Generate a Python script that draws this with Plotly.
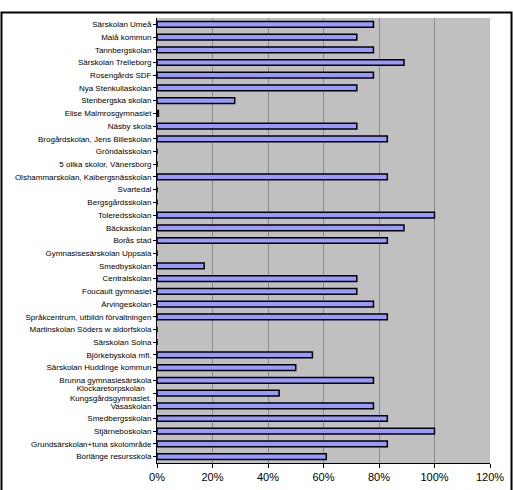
import plotly.graph_objects as go

categories = [
    "Särskolan Umeå", "Malå kommun", "Tannbergskolan", "Särskolan Trelleborg",
    "Rosengårds SDF", "Nya Stenkullaskolan", "Stenbergska skolan",
    "Elise Malmrosgymnasiet", "Näsby skola", "Brogårdskolan, Jens Billeskolan",
    "Gröndalsskolan", "5 olika skolor, Vänersborg",
    "Olshammarskolan, Kaibergsnässkolan", "Svartedal", "Bergsgårdsskolan",
    "Toleredsskolan", "Bäckaskolan", "Borås stad", "Gymnasisesärskolan Uppsala",
    "Smedbyskolan", "Centralskolan", "Foucault gymnasiet", "Ärvingeskolan",
    "Språkcentrum, utbildn förvaltningen", "Martinskolan Söders w aldorfskola",
    "Särskolan Solna", "Björkebyskola mfl.", "Särskolan Huddinge kommun",
    "Brunna gymnasiesärskola", "Klockaretorpskolan   <br>Kungsgårdsgymnasiet.",
    "Vasaskolan", "Smedbergsskolan", "Stjärneboskolan",
    "Grundsärskolan+tuna skolområde", "Borlänge resursskola",
]
values = [
    0.78, 0.72, 0.78, 0.89, 0.78, 0.72, 0.28, 0.005, 0.72, 0.83,
    0, 0, 0.83, 0, 0, 1.00, 0.89, 0.83, 0, 0.17,
    0.72, 0.72, 0.78, 0.83, 0, 0, 0.56, 0.50, 0.78, 0.44,
    0.78, 0.83, 1.00, 0.83, 0.61,
]
x_tickvals = [0, 0.2, 0.4, 0.6, 0.8, 1.0, 1.2]
x_ticktext = ["0%", "20%", "40%", "60%", "80%", "100%", "120%"]

ids = list(range(len(categories)))

fig = go.Figure(go.Bar(
    x=values, y=ids, orientation="h",
    marker=dict(color="#9999FF", line=dict(color="#000000", width=1.5)),
    width=0.45,
))

fig.update_layout(
    width=513, height=490,
    margin=dict(l=157, r=23, t=18, b=27),
    paper_bgcolor="white", plot_bgcolor="#C0C0C0",
    showlegend=False,
    font=dict(family="Liberation Sans, Arial, sans-serif", color="black"),
    xaxis=dict(
        range=[0, 1.2], tickvals=x_tickvals, ticktext=x_ticktext,
        showgrid=True, gridcolor="#8C8C8C", gridwidth=1,
        showline=True, linecolor="black", linewidth=1,
        ticks="outside", ticklen=4, tickcolor="black",
        tickfont=dict(size=11), zeroline=False, fixedrange=True,
        automargin=False,
    ),
    yaxis=dict(
        tickmode="array", tickvals=ids, ticktext=categories,
        range=[len(categories) - 0.5, -0.5],
        showgrid=False, showline=True, linecolor="black", linewidth=1,
        ticks="outside", ticklen=3, tickcolor="black",
        tickfont=dict(size=8), zeroline=False, automargin=False,
        fixedrange=True,
    ),
    shapes=[dict(
        type="rect", xref="paper", yref="paper",
        x0=-0.467, x1=1.0646, y0=-0.08, y1=1.0124,
        line=dict(color="black", width=2), layer="below",
    )],
)

fig.write_html(
    "out.html",
    config={"displayModeBar": False},
    post_script="document.body.style.margin='0';document.body.style.overflow='hidden';",
)
